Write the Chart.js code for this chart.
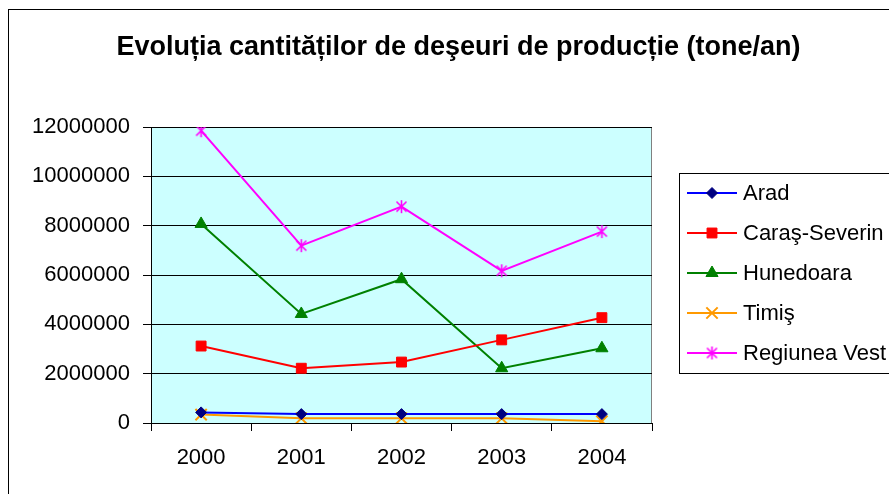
<!DOCTYPE html>
<html>
<head>
<meta charset="utf-8">
<script src="https://cdn.jsdelivr.net/npm/chart.js@4"></script>
<style>
  html, body { margin: 0; padding: 0; background: #fff; }
  #wrap { width: 889px; height: 494px; }
</style>
</head>
<body>
<div id="wrap"><canvas id="c" width="889" height="494"></canvas></div>
<script>
const chartTitle = 'Evoluția cantităților de deşeuri de producție (tone/an)';
const years = ['2000', '2001', '2002', '2003', '2004'];
const arad = [430000, 360000, 360000, 360000, 360000];
const carasSeverin = [3120000, 2220000, 2470000, 3370000, 4270000];
const hunedoara = [8070000, 4420000, 5830000, 2220000, 3030000];
const timis = [340000, 190000, 190000, 190000, 70000];
const regiuneaVest = [11850000, 7190000, 8770000, 6170000, 7760000];
const yTicks = [0, 2000000, 4000000, 6000000, 8000000, 10000000, 12000000];

const FONT = '"Liberation Sans", Arial, sans-serif';

// six-arm asterisk marker (vertical bar + X), as in the original
function asteriskMarker(color) {
  const c = document.createElement('canvas');
  c.width = 15; c.height = 15;
  const g = c.getContext('2d');
  g.strokeStyle = color;
  g.lineWidth = 1.6;
  g.beginPath();
  g.moveTo(7.5, 1); g.lineTo(7.5, 14);
  g.moveTo(2.5, 2.5); g.lineTo(12.5, 12.5);
  g.moveTo(12.5, 2.5); g.lineTo(2.5, 12.5);
  g.stroke();
  return c;
}
const starImg = asteriskMarker('#FF00FF');

const frame = {
  id: 'frame',
  beforeDraw(chart) {
    const ctx = chart.ctx, a = chart.chartArea;
    ctx.save();
    ctx.fillStyle = '#fff';
    ctx.fillRect(0, 0, chart.width, chart.height);
    ctx.strokeStyle = '#000';
    ctx.lineWidth = 1;
    ctx.strokeRect(8.5, 9.5, 1200, 1200);
    ctx.fillStyle = '#CCFFFF';
    ctx.fillRect(a.left, a.top, a.right - a.left, a.bottom - a.top);
    ctx.strokeStyle = '#808080';
    ctx.beginPath();
    ctx.moveTo(Math.round(a.right) - 0.5, a.top);
    ctx.lineTo(Math.round(a.right) - 0.5, a.bottom);
    ctx.stroke();
    ctx.fillStyle = '#000';
    ctx.font = 'bold 27px ' + FONT;
    ctx.textAlign = 'center';
    ctx.textBaseline = 'alphabetic';
    ctx.fillText(chartTitle, 458.5, 55);
    ctx.restore();
  },
  afterDraw(chart) {
    const ctx = chart.ctx;
    ctx.save();
    ctx.fillStyle = '#fff';
    ctx.fillRect(679.5, 173.5, 300, 200);
    ctx.strokeStyle = '#000';
    ctx.lineWidth = 1;
    ctx.strokeRect(679.5, 173.5, 300, 200);
    chart.data.datasets.forEach((ds, i) => {
      const y = 193 + 40 * i;
      ctx.strokeStyle = ds.borderColor;
      ctx.lineWidth = ds.borderWidth;
      ctx.beginPath();
      ctx.moveTo(687, y);
      ctx.lineTo(737, y);
      ctx.stroke();
      ctx.fillStyle = ds.pointBackgroundColor;
      ctx.strokeStyle = ds.pointBorderColor;
      ctx.lineWidth = ds.pointBorderWidth;
      Chart.helpers.drawPoint(ctx, {
        pointStyle: ds.pointStyle, radius: ds.pointRadius,
        borderWidth: ds.pointBorderWidth, rotation: 0
      }, 712, y);
      ctx.fillStyle = '#000';
      ctx.font = '22px ' + FONT;
      ctx.textAlign = 'left';
      ctx.textBaseline = 'middle';
      ctx.fillText(ds.label, 743, y + 1);
    });
    ctx.restore();
  }
};

function series(label, data, line, fill, style, radius, pbw) {
  return {
    label, data,
    borderColor: line, borderWidth: 2,
    pointStyle: style, pointRadius: radius, pointHoverRadius: radius,
    pointBackgroundColor: fill, pointBorderColor: fill, pointBorderWidth: pbw,
    tension: 0, fill: false
  };
}

new Chart(document.getElementById('c'), {
  type: 'line',
  data: {
    labels: years,
    datasets: [
      series('Arad', arad, '#0000FF', '#000080', 'rectRot', 5.5, 1),
      series('Caraş-Severin', carasSeverin, '#FF0000', '#FF0000', 'rect', 7, 1),
      series('Hunedoara', hunedoara, '#008000', '#008000', 'triangle', 7, 1),
      series('Timiş', timis, '#FF9900', '#FF9900', 'crossRot', 8, 2),
      series('Regiunea Vest', regiuneaVest, '#FF00FF', '#FF00FF', starImg, 7, 2)
    ]
  },
  options: {
    responsive: false,
    animation: false,
    devicePixelRatio: 1,
    layout: { padding: { top: 127, right: 237, bottom: 0, left: 0 } },
    plugins: { legend: { display: false }, title: { display: false }, tooltip: { enabled: false } },
    scales: {
      x: {
        type: 'category',
        offset: true,
        grid: { offset: true, drawOnChartArea: false, drawTicks: true, tickLength: 8, color: '#000' },
        border: { display: true, color: '#000' },
        ticks: { color: '#000', font: { family: FONT, size: 22 }, padding: 14, maxRotation: 0 },
        afterFit(s) { s.height = 71; }
      },
      y: {
        min: 0, max: 12000000,
        afterBuildTicks(s) { s.ticks = yTicks.map(v => ({ value: v })); },
        grid: { color: '#000', tickLength: 8, drawTicks: true },
        border: { display: true, color: '#000' },
        ticks: { color: '#000', font: { family: FONT, size: 22 }, padding: 13, callback: v => String(v) },
        afterFit(s) { s.width = 151; }
      }
    }
  },
  plugins: [frame]
});
</script>
</body>
</html>
